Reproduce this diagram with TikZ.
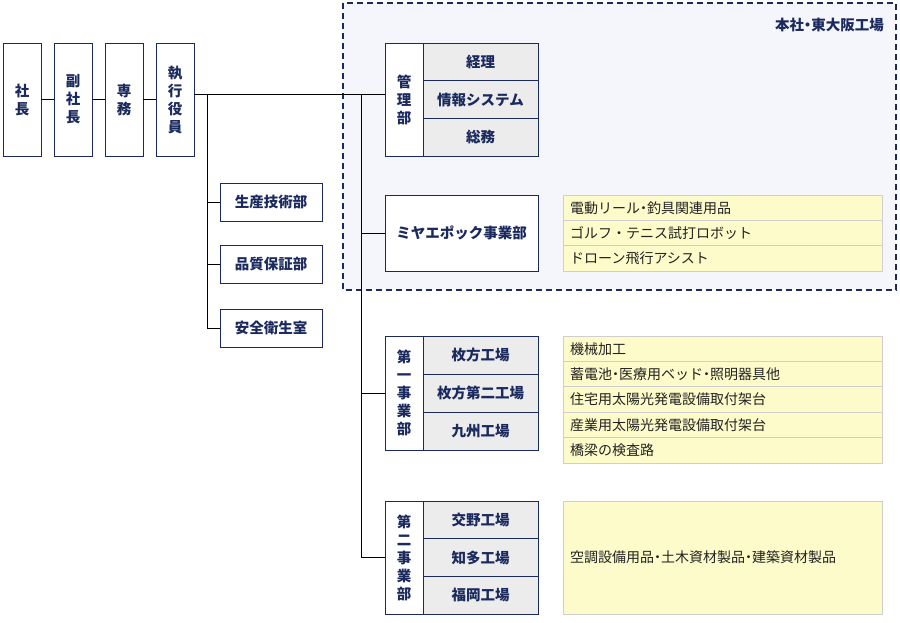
\documentclass[tikz,border=0pt]{standalone}
\usepackage{fontspec}
\setmainfont{Noto Sans CJK JP}
\definecolor{navy}{HTML}{1B2A5E}
\definecolor{lightblue}{HTML}{F4F6FC}
\definecolor{rowgray}{HTML}{ECECEC}
\definecolor{yel}{HTML}{FDFBC9}
\definecolor{yelline}{HTML}{CFCFCF}
\definecolor{txt}{HTML}{222222}
\newcommand{\nd}{\kern-0.25em・\kern-0.25em}
\begin{document}
\begin{tikzpicture}[x=1pt,y=-1pt,
  box/.style={draw=navy,line width=0.9pt,fill=white,inner sep=0pt,text=navy,font=\fontsize{14.5}{18}\selectfont\bfseries,align=center},
  row/.style={draw=navy,line width=0.9pt,fill=rowgray,inner sep=0pt,text=navy,font=\fontsize{14.5}{18}\selectfont\bfseries,align=center},
  ybox/.style={draw=yelline,line width=0.8pt,fill=yel},
  ytxt/.style={anchor=west,text=txt,font=\fontsize{14}{16}\selectfont,inner sep=0pt},
  conn/.style={draw=black,line width=1pt}]
\useasboundingbox (0,0) rectangle (900,622);
% HQ dashed area
\draw[navy,dashed,line width=1.2pt,dash pattern=on 6pt off 4pt,fill=lightblue] (343,3) rectangle (896,290);
\node[text=navy,font=\fontsize{14.5}{16}\selectfont\bfseries,anchor=east,inner sep=0pt] (hq) at (884,25) {本社\nd 東大阪工場};
% executives
\node[box,minimum width=38,minimum height=113] (pres) at (22,99.5) {社\\長};
\node[box,minimum width=38,minimum height=113] (vp) at (73,99.5) {副\\社\\長};
\node[box,minimum width=38,minimum height=113] (md) at (124,99.5) {専\\務};
\node[box,minimum width=38,minimum height=113] (ex) at (175,99.5) {執\\行\\役\\員};
\draw[conn] (pres) -- (vp);
\draw[conn] (vp) -- (md);
\draw[conn] (md) -- (ex);
% left branch
\node[box,minimum width=102,minimum height=38] (d1) at (271,202) {生産技術部};
\node[box,minimum width=102,minimum height=38] (d2) at (271,264.5) {品質保証部};
\node[box,minimum width=102,minimum height=38] (d3) at (271,328) {安全衛生室};
\coordinate (j1) at (207,94);
\coordinate (j2) at (361,94);
\draw[conn] (j1) |- (d3.west);
\draw[conn] (j1|-d1.west) -- (d1.west);
\draw[conn] (j1|-d2.west) -- (d2.west);
% admin
\node[box,minimum width=38,minimum height=113] (adm) at (404,99.5) {管\\理\\部};
\node[row,minimum width=115,minimum height=37.7] (a1) at (480.5,61.8) {経理};
\node[row,minimum width=115,minimum height=37.7] (a2) at (480.5,99.5) {情報システム};
\node[row,minimum width=115,minimum height=37.7] (a3) at (480.5,137.2) {総務};
\draw[conn] (ex.east|-j1) -- (adm.west|-j1);
% miya
\node[box,minimum width=153,minimum height=76] (miya) at (461.5,233) {ミヤエポック事業部};
% dept 1
\node[box,minimum width=38,minimum height=114] (b1) at (404,393) {第\\一\\事\\業\\部};
\node[row,minimum width=115,minimum height=38] (f1) at (480.5,355) {枚方工場};
\node[row,minimum width=115,minimum height=38] (f2) at (480.5,393) {枚方第二工場};
\node[row,minimum width=115,minimum height=38] (f3) at (480.5,431) {九州工場};
% dept 2
\node[box,minimum width=38,minimum height=113] (b2) at (404,557.5) {第\\二\\事\\業\\部};
\node[row,minimum width=115,minimum height=37.7] (g1) at (480.5,519.8) {交野工場};
\node[row,minimum width=115,minimum height=37.7] (g2) at (480.5,557.5) {知多工場};
\node[row,minimum width=115,minimum height=37.7] (g3) at (480.5,595.2) {福岡工場};
\draw[conn] (j2) |- (b2.west);
\draw[conn] (j2|-miya.west) -- (miya.west);
\draw[conn] (j2|-b1.west) -- (b1.west);
% yellow boxes
\node[ybox,minimum width=319,minimum height=25.3,inner sep=0] (y1) at (722.5,207.7) {};
\node[ybox,minimum width=319,minimum height=25.3,inner sep=0] (y2) at (722.5,233) {};
\node[ybox,minimum width=319,minimum height=25.3,inner sep=0] (y3) at (722.5,258.3) {};
\node[ytxt] (t1) at (570,207.7) {電動リール\nd 釣具関連用品};
\node[ytxt] (t2) at (570,233) {ゴルフ・テニス試打ロボット};
\node[ytxt] (t3) at (570,258.3) {ドローン飛行アシスト};
\foreach \i/\t in {0/機械加工,1/蓄電池\nd 医療用ベッド\nd 照明器具他,2/住宅用太陽光発電設備取付架台,3/産業用太陽光発電設備取付架台,4/橋梁の検査路}{
  \node[ybox,minimum width=319,minimum height=25.4,inner sep=0] (z\i) at (722.5,348.7+25.4*\i) {};
  \node[ytxt] (zt\i) at (570,348.7+25.4*\i) {\t};
}
\node[ybox,minimum width=319,minimum height=113,inner sep=0] (w) at (722.5,557.5) {};
\node[ytxt] (wt) at (570,557.5) {空調設備用品\nd 土木資材製品\nd 建築資材製品};
\end{tikzpicture}
\end{document}
